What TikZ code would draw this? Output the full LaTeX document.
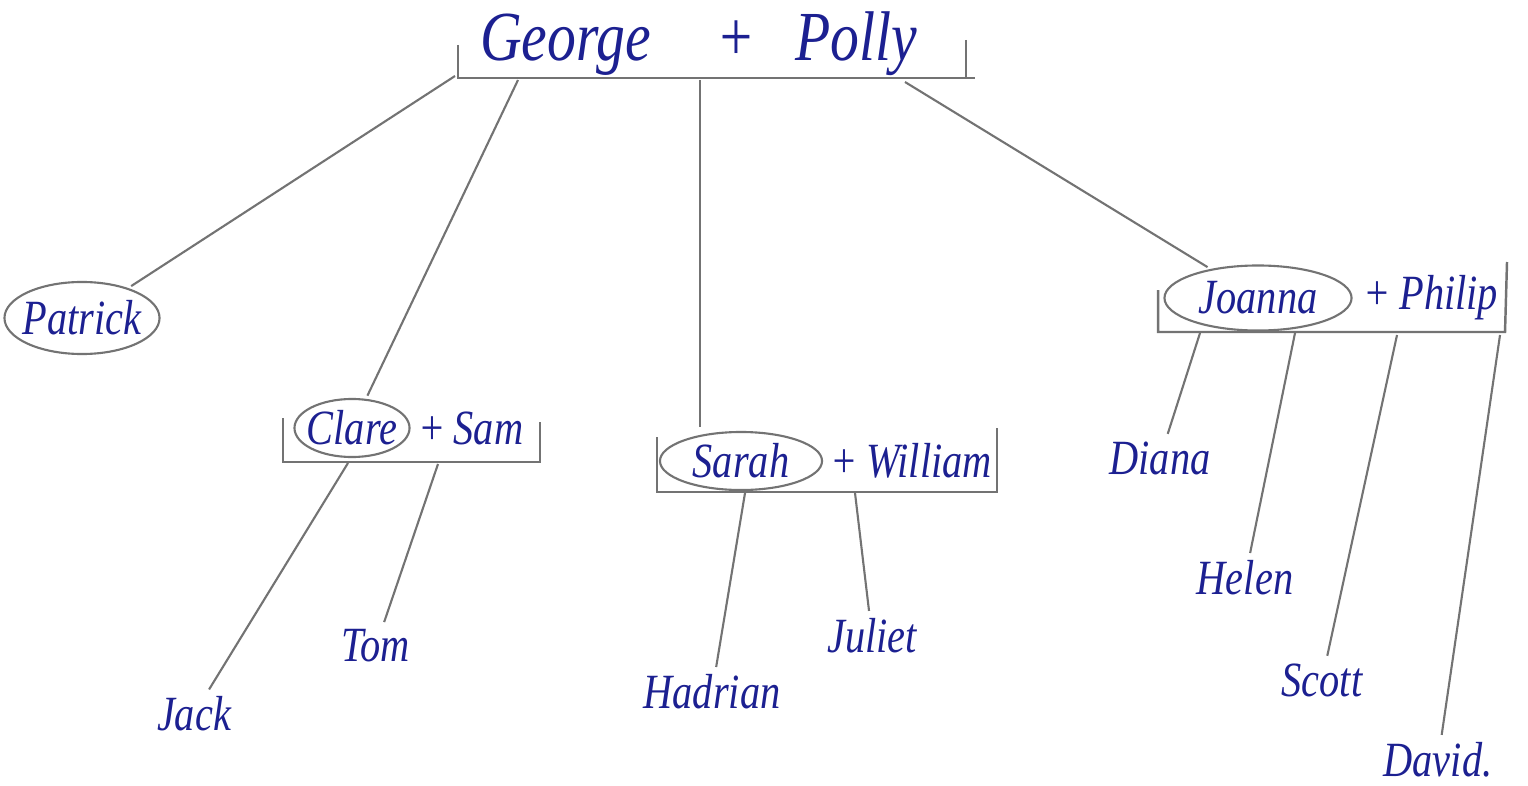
\documentclass[tikz,border=0pt]{standalone}
\usepackage{fontspec}
\usepackage{tikz}
\usetikzlibrary{positioning,shapes.geometric}
\newfontfamily\hand{Liberation Serif}[FakeStretch=0.82]
\definecolor{ink}{RGB}{28,32,145}
\definecolor{pencil}{RGB}{115,115,115}
\tikzset{
  person/.style={font=\hand\itshape\fontsize{14}{14}\selectfont, text=ink, inner sep=1pt},
  couple/.style={font=\hand\itshape\fontsize{20}{20}\selectfont, text=ink, inner sep=1pt},
  circled/.style={ellipse, draw=pencil, line width=0.6pt, inner xsep=-2pt, inner ysep=0pt},
  bracket/.style={pencil, line width=0.7pt},
  link/.style={pencil, line width=0.6pt, shorten >=1pt}
}
\begin{document}
\begin{tikzpicture}[x=0.01cm, y=-0.01cm]
  \useasboundingbox (0,0) rectangle (1528,785);

  % Top couple
  \node[couple, anchor=west] (gp) at (476,44) {George\hspace{0.65cm}+\hspace{0.4cm}Polly};
  \draw[bracket] (458,45) -- (458,78) -- (975,78);
  \draw[bracket] (966,40) -- (966,78);
  \coordinate (gpa) at (455,76);
  \coordinate (gpb) at (518,80);
  \coordinate (gpc) at (700,80);
  \coordinate (gpd) at (905,82);

  % Patrick
  \node[person, circled, minimum width=1.55cm, minimum height=0.72cm] (patrick) at (82,318) {Patrick};
  \draw[link] (gpa) -- (patrick);

  % Clare + Sam
  \node[person, circled, minimum width=1.15cm, minimum height=0.58cm] (clare) at (352,428) {Clare};
  \node[person, right=1pt of clare] (sam) {+\,Sam};
  \draw[bracket] (283,418) -- (283,462) -- (540,462) -- (540,422);
  \draw[link] (gpb) -- (clare);
  \coordinate (csa) at (348,463);
  \coordinate (csb) at (438,464);
  \node[person] (jack) at (194,714) {Jack};
  \node[person] (tom) at (376,646) {Tom};
  \draw[link] (csa) -- (jack);
  \draw[link] (csb) -- (tom);

  % Sarah + William
  \node[person, circled, minimum width=1.62cm, minimum height=0.58cm] (sarah) at (741,461) {Sarah};
  \node[person, right=1pt of sarah] (william) {+\,William};
  \draw[bracket] (657,437) -- (657,492) -- (997,492) -- (997,428);
  \draw[link] (gpc) -- (gpc |- sarah.north);
  \coordinate (swa) at (745,493);
  \coordinate (swb) at (855,493);
  \node[person] (hadrian) at (712,692) {Hadrian};
  \node[person] (juliet) at (872,636) {Juliet};
  \draw[link] (swa) -- (hadrian);
  \draw[link] (swb) -- (juliet);

  % Joanna + Philip
  \node[person, circled, minimum width=1.87cm, minimum height=0.65cm] (joanna) at (1258,298) {Joanna};
  \node[person, right=2pt of joanna] (philip) {+\,Philip};
  \draw[bracket] (1158,290) -- (1158,332) -- (1505,332) -- (1507,262);
  \draw[link] (gpd) -- (joanna);
  \coordinate (jpa) at (1200,333);
  \coordinate (jpb) at (1295,333);
  \coordinate (jpc) at (1397,335);
  \coordinate (jpd) at (1500,335);
  \node[person] (diana) at (1160,458) {Diana};
  \node[person] (helen) at (1245,578) {Helen};
  \node[person] (scott) at (1322,680) {Scott};
  \node[person] (david) at (1438,760) {David.};
  \draw[link] (jpa) -- (diana);
  \draw[link] (jpb) -- (helen);
  \draw[link] (jpc) -- (scott);
  \draw[link] (jpd) -- (david);
\end{tikzpicture}
\end{document}
